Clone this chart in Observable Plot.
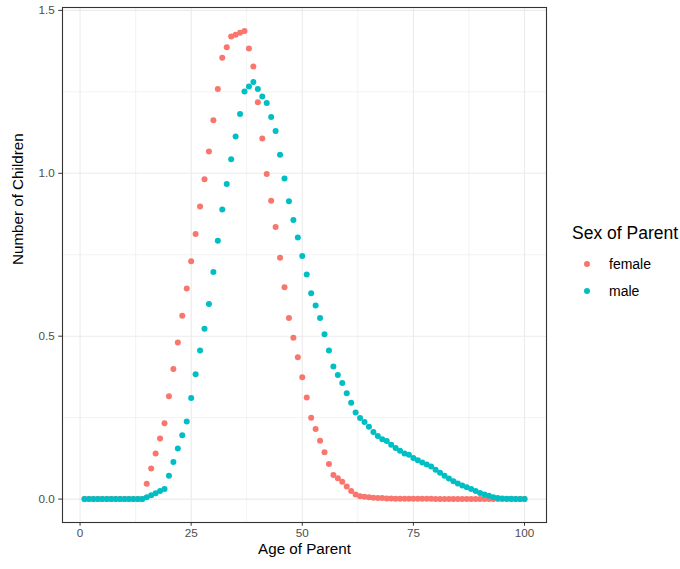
<!DOCTYPE html>
<html>
<head>
<meta charset="utf-8">
<script src="https://cdn.jsdelivr.net/npm/d3@7"></script>
<script src="https://cdn.jsdelivr.net/npm/@observablehq/plot@0.6"></script>
<style>
  body { margin: 0; background: #ffffff; font-family: "Liberation Sans", Arial, sans-serif; }
  #chart { position: relative; width: 680px; height: 569px; }
  #legend { position: absolute; left: 0; top: 0; width: 680px; height: 569px; pointer-events: none; }
  .lg-title { position: absolute; left: 572px; top: 223px; font-size: 17.5px; line-height: 20px; color: #000; white-space: nowrap; }
  .lg-key { position: absolute; width: 6px; height: 6px; border-radius: 50%; }
  .lg-label { position: absolute; left: 609px; font-size: 14px; line-height: 16px; color: #000; white-space: nowrap; }
</style>
</head>
<body>
<div id="chart"><div id="legend"></div></div>
<script>
// Parent age (years) and mean number of children, by sex of parent
const age = d3.range(1, 101);

const female = [
  0, 0, 0, 0, 0, 0, 0, 0, 0, 0,
  0, 0, 0, 0, 0.047, 0.094, 0.140, 0.186, 0.233, 0.316,
  0.399, 0.481, 0.563, 0.646, 0.730, 0.814, 0.898, 0.982, 1.067, 1.163,
  1.259, 1.355, 1.387, 1.420, 1.425, 1.431, 1.437, 1.383, 1.328, 1.218,
  1.107, 0.998, 0.916, 0.835, 0.741, 0.650, 0.556, 0.495, 0.435, 0.374,
  0.312, 0.250, 0.215, 0.179, 0.144, 0.108, 0.074, 0.064, 0.053, 0.039,
  0.025, 0.014, 0.009, 0.007, 0.006, 0.004, 0.003, 0.003, 0.002, 0.002,
  0.001, 0.001, 0.001, 0.001, 0.001, 0.001, 0.001, 0.001, 0.001, 0,
  0, 0, 0, 0, 0, 0, 0, 0, 0, 0,
  0, 0, 0, 0, 0, 0, 0, 0, 0, 0
];

const male = [
  0, 0, 0, 0, 0, 0, 0, 0, 0, 0,
  0, 0, 0, 0, 0.006, 0.012, 0.018, 0.025, 0.031, 0.072,
  0.114, 0.155, 0.196, 0.238, 0.310, 0.383, 0.456, 0.523, 0.599, 0.697,
  0.793, 0.889, 0.967, 1.043, 1.113, 1.182, 1.251, 1.266, 1.280, 1.259,
  1.236, 1.216, 1.173, 1.130, 1.057, 0.984, 0.914, 0.857, 0.803, 0.746,
  0.689, 0.632, 0.594, 0.556, 0.506, 0.456, 0.407, 0.381, 0.356, 0.325,
  0.296, 0.266, 0.249, 0.237, 0.222, 0.206, 0.194, 0.184, 0.178, 0.167,
  0.157, 0.148, 0.140, 0.136, 0.126, 0.119, 0.112, 0.106, 0.100, 0.090,
  0.081, 0.072, 0.063, 0.055, 0.048, 0.042, 0.036, 0.031, 0.025, 0.019,
  0.014, 0.010, 0.006, 0.003, 0.002, 0.001, 0.001, 0, 0, 0
];

const sexes = ["female", "male"];
const sexColors = ["#F8766D", "#00BFC4"];

const xTicks = [0, 25, 50, 75, 100];
const xMinor = [12.5, 37.5, 62.5, 87.5];
const yTicks = [0, 0.5, 1.0, 1.5];
const yMinor = [0.25, 0.75, 1.25];

// long-format table: females first, males drawn over them
const rows = [
  ...age.map((a, i) => ({age: a, children: female[i], sex: "female"})),
  ...age.map((a, i) => ({age: a, children: male[i], sex: "male"}))
];

// 5% padding around the data range on both axes
const xExt = d3.extent(rows, d => d.age);
const yExt = d3.extent(rows, d => d.children);
const xPad = (xExt[1] - xExt[0]) * 0.05;
const yPad = (yExt[1] - yExt[0]) * 0.05;

const gridColor = "#EBEBEB";

const plot = Plot.plot({
  width: 560,
  height: 569,
  marginLeft: 62,
  marginRight: 14,
  marginTop: 7,
  marginBottom: 47,
  style: { fontFamily: "'Liberation Sans', Arial, sans-serif", fontSize: "11.7px", background: "#ffffff" },
  x: { domain: [xExt[0] - xPad, xExt[1] + xPad] },
  y: { domain: [yExt[0] - yPad, yExt[1] + yPad] },
  color: { domain: sexes, range: sexColors },
  marks: [
    Plot.gridX(xMinor, { stroke: gridColor, strokeOpacity: 1, strokeWidth: 0.6 }),
    Plot.gridY(yMinor, { stroke: gridColor, strokeOpacity: 1, strokeWidth: 0.6 }),
    Plot.gridX(xTicks, { stroke: gridColor, strokeOpacity: 1, strokeWidth: 1.1 }),
    Plot.gridY(yTicks, { stroke: gridColor, strokeOpacity: 1, strokeWidth: 1.1 }),
    Plot.dot(rows, { x: "age", y: "children", fill: "sex", r: 3, stroke: null }),
    Plot.frame({ stroke: "#333333", strokeWidth: 1.1 }),
    Plot.axisX(xTicks, { tickSize: 3.7, tickPadding: 2, stroke: "#333333", fill: "#4D4D4D", label: null }),
    Plot.axisY(yTicks, { tickSize: 3.7, tickPadding: 4, stroke: "#333333", fill: "#4D4D4D", tickFormat: d3.format(".1f"), label: null }),
    Plot.text(["Age of Parent"], { frameAnchor: "bottom", dy: 31, fontSize: 15.2, fill: "#000" }),
    Plot.text(["Number of Children"], { frameAnchor: "left", dx: -44, rotate: -90, fontSize: 15.2, fill: "#000" })
  ]
});

const chart = document.getElementById("chart");
chart.insertBefore(plot, chart.firstChild);

// legend on the right, keyed from the plot's own color scale
const color = plot.scale("color");
const legend = document.getElementById("legend");
const title = document.createElement("div");
title.className = "lg-title";
title.textContent = "Sex of Parent";
legend.appendChild(title);
color.domain.forEach((name, i) => {
  const cy = 264 + i * 27;
  const key = document.createElement("div");
  key.className = "lg-key";
  key.style.left = (587 - 3) + "px";
  key.style.top = (cy - 3) + "px";
  key.style.background = color.range[i];
  legend.appendChild(key);
  const label = document.createElement("div");
  label.className = "lg-label";
  label.style.top = (cy - 8) + "px";
  label.textContent = name;
  legend.appendChild(label);
});
</script>
</body>
</html>
